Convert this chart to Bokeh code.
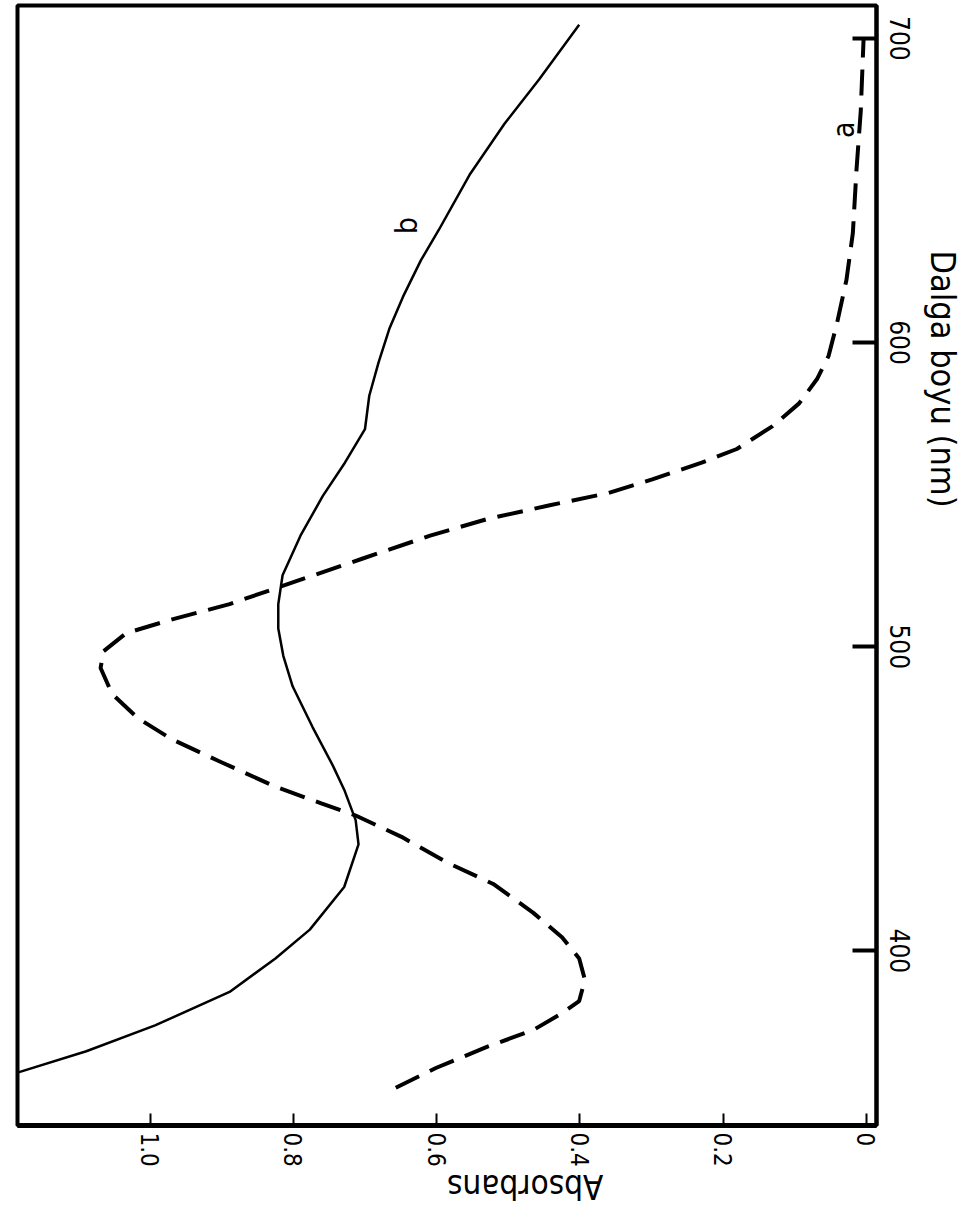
import math

from bokeh.embed import file_html
from bokeh.models import FixedTicker, Label, LinearAxis, Range1d, Title
from bokeh.plotting import figure
from bokeh.resources import INLINE

# Spectrum a (dashed): wavelength in nm, absorbance
wavelength_a = [355, 361.5, 368.5, 374, 379.5, 383.5, 390.5, 397.5, 404.5, 412.5,
                422, 429, 437.5, 444.5, 448.5, 454, 462.5, 469.5, 476.5, 484.5,
                493, 498.5, 504.5, 509, 514, 520, 529, 536.5, 542, 546.5, 550.5,
                555, 560.5, 565, 572.5, 580, 588, 595.5, 606.5, 620.5, 636,
                656.5, 676, 700]
absorbance_a = [0.657, 0.601, 0.529, 0.465, 0.425, 0.401, 0.393, 0.401, 0.425, 0.465,
                0.521, 0.585, 0.649, 0.713, 0.761, 0.825, 0.905, 0.969, 1.017, 1.053,
                1.069, 1.065, 1.033, 0.969, 0.889, 0.815, 0.703, 0.609, 0.529, 0.442, 0.361,
                0.299, 0.230, 0.181, 0.131, 0.094, 0.069, 0.053, 0.041, 0.028, 0.019,
                0.014, 0.008, 0.004]

# Spectrum b (solid): wavelength in nm, absorbance
wavelength_b = [360, 367, 375.5, 386.5, 397.5, 407, 421, 435, 443, 453, 461, 473.5,
                487, 497, 506, 514, 523.5, 536.5, 549.5, 560.5, 571.5, 582.5, 593.5,
                604.5, 615, 627, 637, 655.5, 672, 686.5, 704.5]
absorbance_b = [1.185, 1.089, 0.993, 0.889, 0.825, 0.777, 0.729, 0.709, 0.713, 0.729,
                0.745, 0.773, 0.801, 0.814, 0.821, 0.821, 0.815, 0.790, 0.759, 0.728,
                0.700, 0.694, 0.681, 0.666, 0.647, 0.622, 0.597, 0.553, 0.505, 0.457, 0.401]

absorbance_ticks = [0, 0.2, 0.4, 0.6, 0.8, 1.0]
absorbance_tick_labels = ["0", "0.2", "0.4", "0.6", "0.8", "1.0"]
wavelength_ticks = [400, 500, 600, 700]

tick_font = "DejaVu Sans Condensed"
label_font = "DejaVu Sans Condensed"

p = figure(
    width=974, height=1228,
    x_range=Range1d(1.185, -0.014),
    y_range=Range1d(342.6, 710.8),
    x_axis_location="below", y_axis_location="right",
    output_backend="svg", toolbar_location=None,
)
p.min_border_left = 17
p.min_border_top = 5
p.min_border_right = 96
p.min_border_bottom = 102
p.background_fill_color = "white"
p.border_fill_color = "white"
p.outline_line_color = "black"
p.outline_line_width = 4
p.xgrid.visible = False
p.ygrid.visible = False

# absorbance axis (bottom)
xa = p.xaxis[0]
xa.ticker = FixedTicker(ticks=absorbance_ticks)
xa.major_label_overrides = {t: s for t, s in zip(absorbance_ticks, absorbance_tick_labels)}
xa.major_label_orientation = "vertical"
xa.major_label_text_font = tick_font
xa.major_label_text_font_size = "24px"
xa.major_label_text_color = "black"
xa.major_label_standoff = 7
xa.major_tick_in = 12
xa.major_tick_out = 0
xa.major_tick_line_width = 2
xa.minor_tick_in = 0
xa.minor_tick_out = 0
xa.axis_line_width = 5
xa.axis_line_color = "black"

# wavelength axis (right)
ya = p.yaxis[0]
ya.ticker = FixedTicker(ticks=wavelength_ticks)
ya.major_label_orientation = "parallel"
ya.major_label_text_font = tick_font
ya.major_label_text_font_size = "26px"
ya.major_label_text_color = "black"
ya.major_label_standoff = 13
ya.major_tick_in = 24
ya.major_tick_out = 0
ya.major_tick_line_width = 4
ya.minor_tick_in = 0
ya.minor_tick_out = 0
ya.axis_line_width = 4
ya.axis_line_color = "black"

# wavelength title, starting a quarter of the way down the right margin
p.add_layout(Title(text="Dalga boyu (nm)", align="left", offset=245, standoff=20,
                   text_font=label_font, text_font_size="34px",
                   text_font_style="normal", text_color="black"), "right")

# absorbance title: an axis that only carries its label, set upside down
abs_title = LinearAxis(ticker=FixedTicker(ticks=[]), bounds=(0.37, 0.57), axis_label="Absorbans")
abs_title.axis_line_color = None
abs_title.major_tick_line_color = None
abs_title.minor_tick_line_color = None
abs_title.major_tick_out = 0
abs_title.minor_tick_out = 0
abs_title.major_label_standoff = 0
abs_title.axis_label_standoff = 17
abs_title.axis_label_text_font = label_font
abs_title.axis_label_text_font_style = "normal"
abs_title.axis_label_text_font_size = "33px"
abs_title.axis_label_text_color = "black"
if "axis_label_orientation" in abs_title.properties():
    abs_title.axis_label_orientation = math.pi
p.add_layout(abs_title, "below")

# spectra
p.line(absorbance_a, wavelength_a, line_color="black", line_width=4, line_dash="26 12")
p.line(absorbance_b, wavelength_b, line_color="black", line_width=2.5)

# curve labels
for txt, ax, wl in (("b", 0.642, 638.4), ("a", 0.032, 670.0)):
    p.add_layout(Label(x=ax, y=wl, text=txt, angle=math.pi / 2,
                       text_font=label_font, text_font_size="30px",
                       text_color="black", text_align="center", text_baseline="middle"))

open("out.html", "w").write(file_html(p, INLINE))
